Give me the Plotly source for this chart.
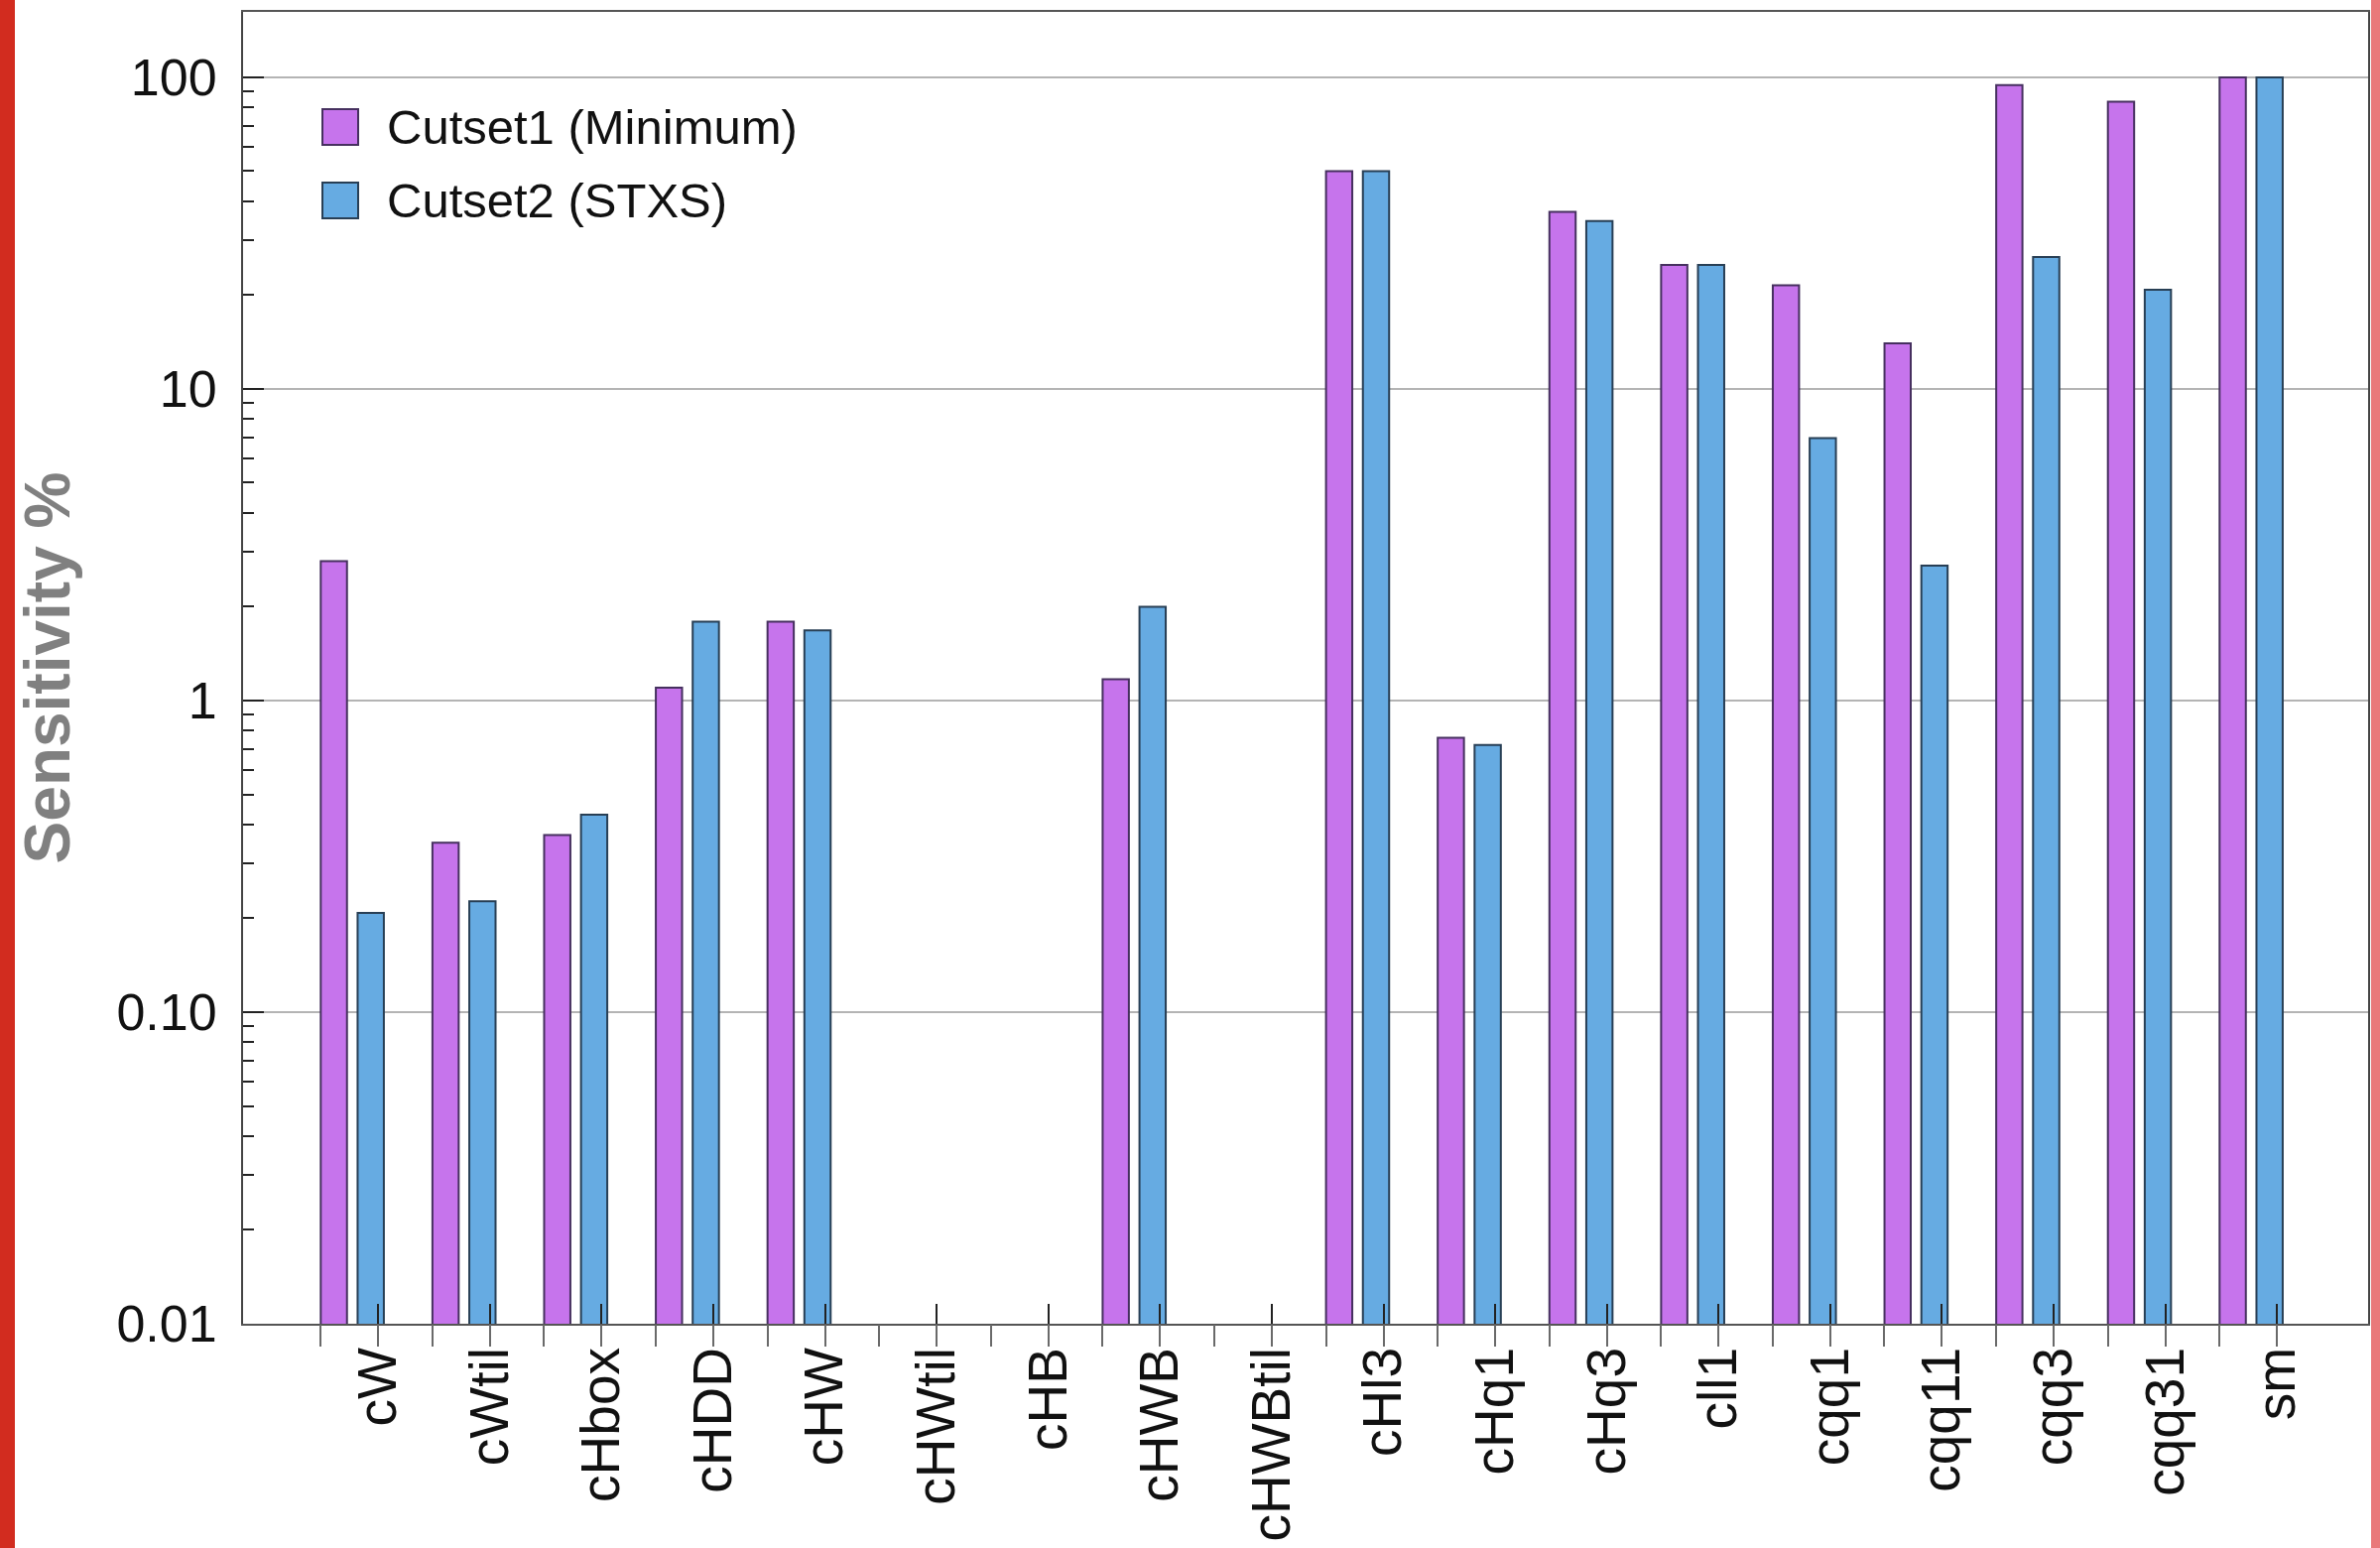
import plotly.graph_objects as go

# Wilson coefficients and sensitivity (%) for the two cut sets
categories = ["cW", "cWtil", "cHbox", "cHDD", "cHW", "cHWtil", "cHB", "cHWB", "cHWBtil",
              "cHl3", "cHq1", "cHq3", "cll1", "cqq1", "cqq11", "cqq3", "cqq31", "sm"]
cutset1 = [2.8, 0.35, 0.37, 1.1, 1.79, None, None, 1.17, None,
           50.0, 0.76, 37.0, 25.0, 21.5, 14.0, 94.5, 83.5, 100.0]
cutset2 = [0.208, 0.227, 0.43, 1.79, 1.68, None, None, 2.0, None,
           50.0, 0.72, 34.6, 25.0, 6.95, 2.71, 26.5, 20.8, 100.0]
y_tickvals = [0.01, 0.1, 1, 10, 100]
y_ticktext = ["0.01", "0.10", "1", "10", "100"]
series_names = ["Cutset1 (Minimum)", "Cutset2 (STXS)"]

PURPLE = "#c674ec"
BLUE = "#66abe2"
FONT = "Liberation Sans, Arial, Helvetica, sans-serif"

# group layout in category units (group i starts at x = i)
bar_w = 0.235
purple_off = 0.118
blue_off = 0.448
label_off = 0.515
n = len(categories)
idx = list(range(n))
x_purple = [i + purple_off for i in idx]
x_blue = [i + blue_off for i in idx]
x_label = [i + label_off for i in idx]
x_range = [-0.695, 18.33]
y_range = [-2, 2.21]

minor_vals = [m * 10 ** k for k in range(-2, 2) for m in range(2, 10)]

fig = go.Figure()
fig.add_trace(go.Bar(x=x_purple, y=cutset1, width=bar_w, name=series_names[0],
                     marker=dict(color=PURPLE, line=dict(color="#46305f", width=2)),
                     showlegend=False))
fig.add_trace(go.Bar(x=x_blue, y=cutset2, width=bar_w, name=series_names[1],
                     marker=dict(color=BLUE, line=dict(color="#283f55", width=2)),
                     showlegend=False))
# carrier traces so the overlay axes (group dividers, minor log ticks) render
fig.add_trace(go.Scatter(x=idx, y=[None] * n, xaxis="x2", yaxis="y", mode="markers",
                         showlegend=False, hoverinfo="skip"))
fig.add_trace(go.Scatter(x=idx, y=[None] * n, xaxis="x", yaxis="y2", mode="markers",
                         showlegend=False, hoverinfo="skip"))

L, R, T, B = 245, 12, 12, 226
W, H = 2399, 1560
pw, ph = W - L - R, H - T - B


def px(xp):
    return (xp - L) / pw


def py(yp):
    return (H - B - yp) / ph


fig.update_layout(
    width=W, height=H,
    margin=dict(l=L, r=R, t=T, b=B, autoexpand=False),
    paper_bgcolor="white", plot_bgcolor="white",
    barmode="overlay",
    font=dict(family=FONT, size=50, color="#111111"),
    xaxis=dict(
        range=x_range, tickmode="array", tickvals=x_label, ticktext=categories,
        tickangle=-90, ticks="inside", ticklen=20, tickwidth=2, tickcolor="#222222",
        tickfont=dict(family=FONT, size=55, color="#111111"),
        showline=True, linecolor="#555555", linewidth=2, mirror=True,
        showgrid=False, zeroline=False, ticklabelstandoff=0, automargin=False,
    ),
    xaxis2=dict(
        range=x_range, overlaying="x", anchor="y", side="bottom",
        tickmode="array", tickvals=idx + x_label, ticks="outside", ticklen=22,
        tickwidth=2, tickcolor="#6a6a6a", showticklabels=False,
        showline=False, showgrid=False, zeroline=False, automargin=False,
    ),
    yaxis=dict(
        type="log", range=y_range, tickmode="array", tickvals=y_tickvals,
        ticktext=y_ticktext, ticks="inside", ticklen=21, tickwidth=2,
        tickcolor="#222222", tickfont=dict(family=FONT, size=52, color="#111111"),
        showline=True, linecolor="#444444", linewidth=2, mirror=True,
        showgrid=True, gridcolor="#b4b4b4", gridwidth=2, zeroline=False,
        ticklabelstandoff=14, automargin=False,
        title=dict(text="Sensitivity %", standoff=26,
                   font=dict(family=FONT, size=64, color="#808080", weight="bold")),
    ),
    yaxis2=dict(
        type="log", range=y_range, overlaying="y", anchor="x", side="left",
        tickmode="array", tickvals=minor_vals, ticks="inside", ticklen=11,
        tickwidth=2, tickcolor="#222222", showticklabels=False,
        showline=False, showgrid=False, zeroline=False, automargin=False,
    ),
)

# legend drawn as swatches with text in the upper-left of the plot area
legend_rows = [(series_names[0], PURPLE, "#46305f", 128), (series_names[1], BLUE, "#283f55", 202)]
shapes = []
annotations = []
for name, fill, edge, yc in legend_rows:
    shapes.append(dict(type="rect", xref="paper", yref="paper",
                       x0=px(325), x1=px(361), y0=py(yc + 18), y1=py(yc - 18),
                       fillcolor=fill, line=dict(color=edge, width=2)))
    annotations.append(dict(text=name, xref="paper", yref="paper", x=px(388), y=py(yc),
                            xanchor="left", yanchor="middle", showarrow=False,
                            font=dict(family=FONT, size=49, color="#111111")))

# coloured page edges on either side of the figure
shapes.append(dict(type="rect", xref="paper", yref="paper", layer="below",
                   x0=px(0), x1=px(15), y0=py(H + 5), y1=py(-5),
                   fillcolor="#d22c1f", line=dict(width=0)))
shapes.append(dict(type="rect", xref="paper", yref="paper", layer="below",
                   x0=px(W - 9), x1=px(W + 5), y0=py(H + 5), y1=py(-5),
                   fillcolor="#e9797a", line=dict(width=0)))

fig.update_layout(shapes=shapes, annotations=annotations)

fig.write_html("out.html")
